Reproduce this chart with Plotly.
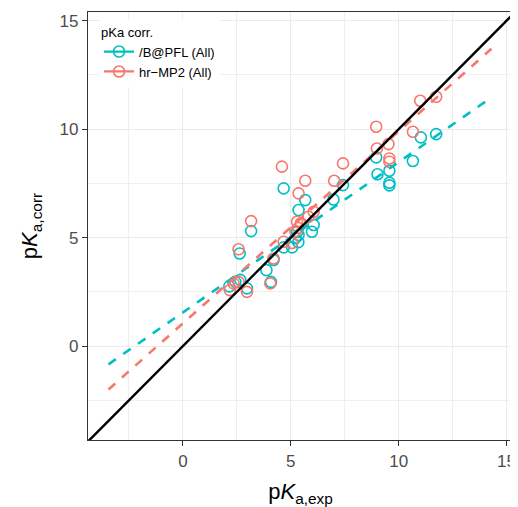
import numpy as np
import plotly.graph_objects as go

# ---- data ----
series_names = ["/B@PFL (All)", "hr\u2212MP2 (All)"]
series_colors = ["#00BFC4", "#F8766D"]

pfl_exp = [4.67, 5.67, 5.36, 7.42, 6.98, 3.16, 2.63, 5.29, 5.36, 5.21, 5.35, 5.06, 4.67,
           5.98, 6.06, 4.20, 3.87, 4.08, 2.97, 2.15, 2.43, 2.66, 11.03, 11.74, 8.96,
           10.66, 9.02, 9.57, 9.57, 9.57]
pfl_corr = [7.27, 6.73, 6.27, 7.42, 6.76, 5.30, 4.27, 5.26, 5.12, 4.97, 4.79, 4.55, 4.55,
            5.27, 5.58, 3.97, 3.50, 2.96, 2.66, 2.75, 2.96, 3.05, 9.62, 9.77, 8.70,
            8.53, 7.92, 8.08, 7.53, 7.41]

mp2_exp = [4.59, 5.67, 5.36, 7.42, 7.01, 3.16, 2.58, 5.29, 5.47, 6.06, 5.82, 4.67, 4.20,
           4.05, 2.97, 2.17, 2.35, 2.58, 5.35, 5.21, 5.06, 11.00, 11.74, 8.96, 10.66,
           8.99, 9.53, 9.57, 9.57]
mp2_corr = [8.27, 7.62, 7.04, 8.42, 7.62, 5.76, 4.46, 5.73, 5.66, 6.19, 5.96, 4.81, 4.04,
            2.89, 2.50, 2.58, 2.89, 2.96, 5.45, 5.30, 4.75, 11.31, 11.49, 10.11, 9.88,
            9.11, 9.31, 8.65, 8.50]

# fitted lines (slope, intercept) and their x extent
fit_slope = [0.693, 0.885]
fit_intercept = [1.55, 1.05]
fit_x_range = [-3.45, 14.3]

x_range = [-4.40, 15.30]
y_range = [-4.33, 15.40]
tick_vals = [0, 5, 10, 15]

fig = go.Figure()

xs = [pfl_exp, mp2_exp]
ys = [pfl_corr, mp2_corr]

# points
for name, col, x, y in zip(series_names, series_colors, xs, ys):
    fig.add_trace(go.Scatter(
        x=x, y=y, mode="markers", name=name, showlegend=False,
        marker=dict(symbol="circle-open", size=11, color=col, line=dict(width=1.6, color=col)),
    ))

# dashed regression lines
fx = np.array(fit_x_range)
for name, col, s, b in zip(series_names, series_colors, fit_slope, fit_intercept):
    fig.add_trace(go.Scatter(
        x=fx, y=s * fx + b, mode="lines", showlegend=False,
        line=dict(color=col, width=2.6, dash="9px,9px"),
    ))

# identity line
dx = np.array([-10.0, 25.0])
fig.add_trace(go.Scatter(x=dx, y=dx, mode="lines", showlegend=False,
                         line=dict(color="black", width=2.4)))

# legend-only entries (point + line key)
for name, col in zip(series_names, series_colors):
    fig.add_trace(go.Scatter(
        x=[None], y=[None], mode="lines+markers", name=name,
        marker=dict(symbol="circle-open", size=11, color=col, line=dict(width=1.6, color=col)),
        line=dict(color=col, width=2.2),
    ))

axis_common = dict(
    showline=True, mirror=True, linecolor="#333333", linewidth=1.3,
    ticks="outside", ticklen=5, tickwidth=1.2, tickcolor="#333333",
    tickvals=tick_vals, tickfont=dict(size=17, color="#4D4D4D"),
    showgrid=True, gridcolor="#EBEBEB", gridwidth=1.4, zeroline=False,
    minor=dict(dtick=2.5, showgrid=True, gridcolor="#EFEFEF", gridwidth=0.7, ticks=""),
    automargin=False, ticklabeloverflow="allow",
)

fig.update_layout(
    width=510, height=499,
    margin=dict(l=80, r=5, t=4, b=67),
    paper_bgcolor="white", plot_bgcolor="white",
    font=dict(family="Liberation Sans, Arial, sans-serif", color="black"),
    xaxis=dict(range=x_range, title=dict(text="p<i>K</i><sub>a,exp</sub>", font=dict(size=22)),
               **axis_common),
    yaxis=dict(range=y_range, title=dict(text="p<i>K</i><sub>a,corr</sub>", font=dict(size=22)),
               **axis_common),
    legend=dict(x=0.026, y=0.982, xanchor="left", yanchor="top", bgcolor="white",
                title=dict(text="pKa corr.", font=dict(size=13)), font=dict(size=13),
                itemwidth=30, tracegroupgap=0),
)

fig.write_html("out.html")
